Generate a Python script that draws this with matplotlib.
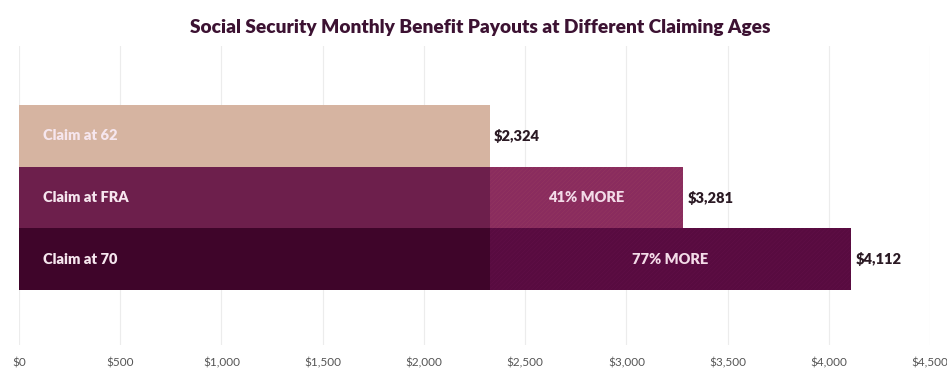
import matplotlib.pyplot as plt
from matplotlib.ticker import FuncFormatter, MultipleLocator

plt.rcParams['font.family'] = ['Lato', 'DejaVu Sans']
plt.rcParams['hatch.linewidth'] = 0.4

labels = ["Claim at 62", "Claim at FRA", "Claim at 70"]
payouts = [2324, 3281, 4112]
more_labels = ["", "41% MORE", "77% MORE"]

base_colors = ["#d6b4a1", "#6d1f4c", "#3f052a"]
extra_colors = ["#8a2c5e", "#8a2c5e", "#580b40"]
hatch_colors = ["#8a2c5e", "#92365f", "#600f47"]

fig = plt.figure(figsize=(9.47, 3.71), dpi=100)
ax = fig.add_axes([0.0201, 0.070, 0.962, 0.806])

base = payouts[0]
for i, (lab, val) in enumerate(zip(labels, payouts)):
    ax.barh(i, min(val, base), height=1.0, left=0, color=base_colors[i], linewidth=0)
    if val > base:
        ax.barh(i, val - base, height=1.0, left=base, color=extra_colors[i],
                edgecolor=hatch_colors[i], hatch="////////", linewidth=0)
        ax.text(base + (val - base) / 2, i, more_labels[i], ha="center", va="center",
                color="#f3dbe8", fontsize=10.5, fontweight="heavy")
    ax.text(118, i, lab, ha="left", va="center", color="#f6e6ee",
            fontsize=10.5, fontweight="heavy")
    ax.text(val + 20, i, f"${val:,}", ha="left", va="center", color="#2b1a24",
            fontsize=10.5, fontweight="heavy")

ax.set_xlim(0, 4500)
ax.set_ylim(3.38, -1.444)
ax.xaxis.set_major_locator(MultipleLocator(500))
ax.xaxis.set_major_formatter(FuncFormatter(lambda v, p: f"${v:,.0f}"))
ax.set_yticks([])
ax.grid(axis="x", color="#ececec", linewidth=0.8)
ax.set_axisbelow(True)
for s in ax.spines.values():
    s.set_visible(False)
ax.tick_params(axis="x", length=0, labelsize=8.5, labelcolor="#555555", pad=9)

fig.text(0.507, 0.925, "Social Security Monthly Benefit Payouts at Different Claiming Ages",
         ha="center", va="center", fontsize=13.8, fontweight="heavy", color="#3c1232")

fig.savefig("out.png", dpi=100)
